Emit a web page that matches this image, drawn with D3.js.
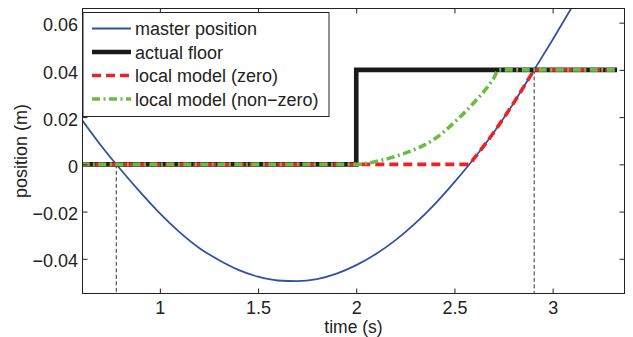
<!DOCTYPE html>
<html>
<head>
<meta charset="utf-8">
<script src="https://cdn.jsdelivr.net/npm/d3@7"></script>
<style>
  body { margin: 0; background: #fff; }
  text { font-family: "Liberation Sans", Arial, Helvetica, sans-serif; fill: #222; }
</style>
</head>
<body>
<svg id="chart"></svg>
<script>
"use strict";

var width = 633
  , height = 337
  , plotLeft = 82.5
  , plotRight = 624.5
  , plotTop = 8.5
  , plotBottom = 293.5;

// master position (s, m)
var masterT = [0.60, 0.70, 0.80, 0.90, 1.00, 1.10, 1.20, 1.30, 1.40, 1.50, 1.60, 1.70, 1.80,
               1.90, 2.00, 2.10, 2.20, 2.30, 2.40, 2.50, 2.60, 2.70, 2.80, 2.90, 3.00, 3.10, 3.20];
var masterY = [0.0192, 0.0080, -0.0022, -0.0118, -0.0208, -0.0287, -0.0354, -0.0405, -0.0447,
               -0.0476, -0.0492, -0.0495, -0.0486, -0.0463, -0.0427, -0.0380, -0.0321, -0.0250,
               -0.0168, -0.0075, 0.0025, 0.0135, 0.0258, 0.0392, 0.0528, 0.0668, 0.0810];

// actual floor
var floorT = [0.60, 2.00, 2.00, 3.328];
var floorY = [0, 0, 0.04, 0.04];

// local model (zero)
var zeroT = [0.60, 2.575, 2.60, 2.70, 2.80, 2.90, 2.906, 3.328];
var zeroY = [0, 0, 0.0025, 0.0135, 0.0258, 0.0392, 0.04, 0.04];

// local model (non-zero)
var nonZeroT = [0.60, 2.00, 2.10, 2.20, 2.30, 2.40, 2.50, 2.60, 2.70, 2.725, 3.328];
var nonZeroY = [0, 0, 0.0012, 0.0034, 0.0064, 0.0108, 0.0178, 0.0262, 0.0365, 0.04, 0.04];

// contact instants (dashed markers)
var contactT = [0.778, 2.906];
var contactY = [0, 0.04];

var xTicks = [1, 1.5, 2, 2.5, 3];
var yTicks = [-0.04, -0.02, 0, 0.02, 0.04, 0.06];
var legendLabels = ["master position", "actual floor", "local model (zero)", "local model (non\u2212zero)"];

var svg = d3.select("#chart")
  .attr("width", width)
  .attr("height", height);

var x = d3.scaleLinear().domain([0.606, 3.366]).range([plotLeft, plotRight]);
var y = d3.scaleLinear().domain([-0.0547, 0.066]).range([plotBottom, plotTop]);

function zip(ts, vs) {
  return ts.map(function (t, i) { return [t, vs[i]]; });
}

var line = d3.line()
  .x(function (d) { return x(d[0]); })
  .y(function (d) { return y(d[1]); });

var smooth = d3.line()
  .x(function (d) { return x(d[0]); })
  .y(function (d) { return y(d[1]); })
  .curve(d3.curveMonotoneX);

svg.append("clipPath")
  .attr("id", "plot-clip")
  .append("rect")
  .attr("x", plotLeft)
  .attr("y", plotTop)
  .attr("width", plotRight - plotLeft)
  .attr("height", plotBottom - plotTop);

var g = svg.append("g").attr("clip-path", "url(#plot-clip)");

// dashed markers down to the axis
g.selectAll(".contact")
  .data(zip(contactT, contactY))
  .enter()
  .append("line")
  .attr("x1", function (d) { return x(d[0]); })
  .attr("x2", function (d) { return x(d[0]); })
  .attr("y1", function (d) { return y(d[1]); })
  .attr("y2", plotBottom)
  .attr("stroke", "#333")
  .attr("stroke-width", 1)
  .attr("stroke-dasharray", "4,2.5");

g.append("path")
  .attr("d", smooth(zip(masterT, masterY)))
  .attr("fill", "none")
  .attr("stroke", "#3152a4")
  .attr("stroke-width", 1.8);

g.append("path")
  .attr("d", line(zip(floorT, floorY)))
  .attr("fill", "none")
  .attr("stroke", "#1a1a1a")
  .attr("stroke-width", 4.6);

g.append("path")
  .attr("d", smooth(zip(zeroT, zeroY)))
  .attr("fill", "none")
  .attr("stroke", "#ec2227")
  .attr("stroke-width", 3.6)
  .attr("stroke-dasharray", "9,5");

g.append("path")
  .attr("d", smooth(zip(nonZeroT, nonZeroY)))
  .attr("fill", "none")
  .attr("stroke", "#69bd45")
  .attr("stroke-width", 3.6)
  .attr("stroke-dasharray", "8,3.5,2,3.5");

// axes, matlab style: ticks inside on all four sides
function fmt(d) { return String(d).replace("-", "\u2212"); }

svg.append("g")
  .attr("transform", "translate(0," + plotBottom + ")")
  .call(d3.axisBottom(x).tickValues(xTicks).tickSize(-5).tickPadding(7.5).tickFormat(fmt));

svg.append("g")
  .attr("transform", "translate(0," + plotTop + ")")
  .call(d3.axisTop(x).tickValues(xTicks).tickSize(-5).tickFormat(""));

var yAxis = svg.append("g")
  .attr("transform", "translate(" + plotLeft + ",0)")
  .call(d3.axisLeft(y).tickValues(yTicks).tickSize(-5).tickPadding(4.5).tickFormat(fmt));

svg.append("g")
  .attr("transform", "translate(" + plotRight + ",0)")
  .call(d3.axisRight(y).tickValues(yTicks).tickSize(-5).tickFormat(""));

svg.selectAll(".domain").remove();
svg.selectAll(".tick line").attr("stroke", "#222");
svg.selectAll(".tick text")
  .style("font-size", "18px")
  .attr("fill", "#222");
yAxis.selectAll(".tick text").attr("dy", "0.45em");

svg.append("rect")
  .attr("x", plotLeft)
  .attr("y", plotTop)
  .attr("width", plotRight - plotLeft)
  .attr("height", plotBottom - plotTop)
  .attr("fill", "none")
  .attr("stroke", "#222")
  .attr("stroke-width", 1);

// axis labels
svg.append("text")
  .attr("x", (plotLeft + plotRight) / 2)
  .attr("y", 333)
  .style("text-anchor", "middle")
  .style("font-size", "17.5px")
  .text("time (s)");

svg.append("text")
  .attr("transform", "translate(27,151) rotate(-90)")
  .style("text-anchor", "middle")
  .style("font-size", "18px")
  .text("position (m)");

// legend
var legend = svg.append("g");

legend.append("rect")
  .attr("x", plotLeft + 0.5)
  .attr("y", 12.5)
  .attr("width", 246)
  .attr("height", 104)
  .attr("fill", "#fff")
  .attr("stroke", "#222")
  .attr("stroke-width", 1);

var legendStyles = [
  { color: "#3152a4", w: 1.8, dash: null },
  { color: "#1a1a1a", w: 4.6, dash: null },
  { color: "#ec2227", w: 3.6, dash: "9,5" },
  { color: "#69bd45", w: 3.6, dash: "8,3.5,2,3.5" }
];

var rows = legend.selectAll(".entry")
  .data(legendLabels)
  .enter()
  .append("g")
  .attr("transform", function (d, i) { return "translate(0," + (28.5 + i * 23.5) + ")"; });

rows.append("line")
  .attr("x1", 92)
  .attr("x2", 131)
  .attr("stroke", function (d, i) { return legendStyles[i].color; })
  .attr("stroke-width", function (d, i) { return legendStyles[i].w; })
  .attr("stroke-dasharray", function (d, i) { return legendStyles[i].dash; });

rows.append("text")
  .attr("x", 135)
  .attr("y", 6.5)
  .style("font-size", "18px")
  .text(function (d) { return d; });
</script>
</body>
</html>
